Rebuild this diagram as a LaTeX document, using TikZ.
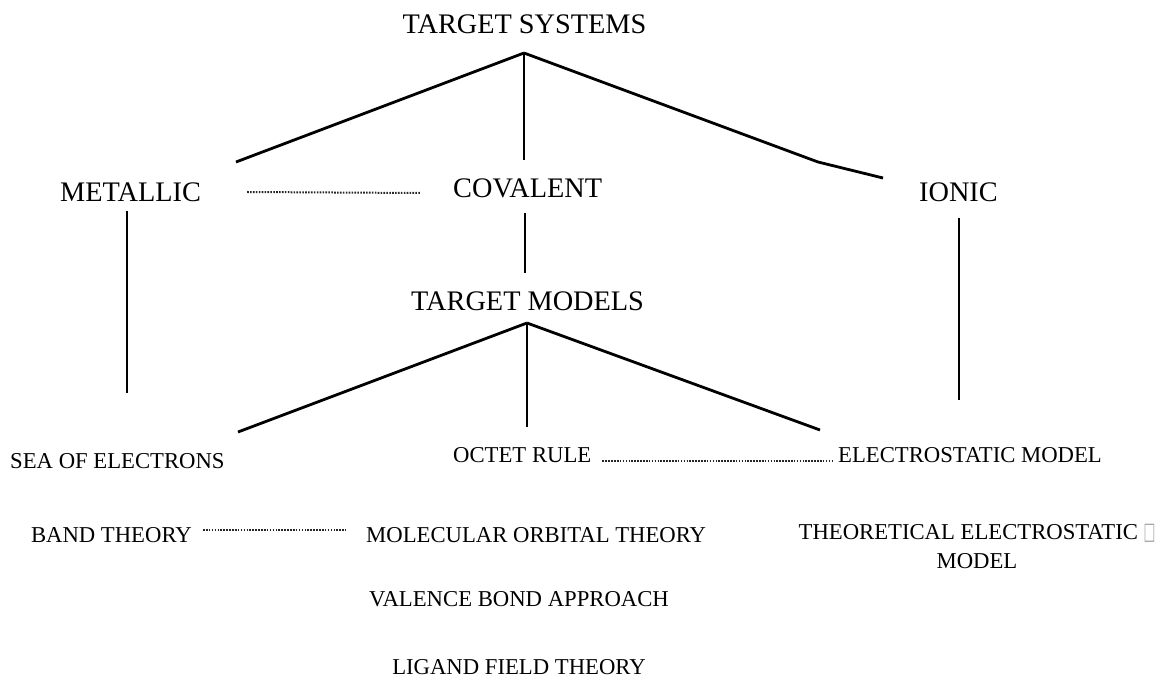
\documentclass[tikz,border=0pt]{standalone}
\usepackage{fontspec}
\setmainfont{Liberation Serif}
\newfontfamily\boxfont{DejaVu Sans}
\usetikzlibrary{positioning}

\begin{document}
\begin{tikzpicture}[
    x=1pt, y=-1pt,
    big/.style={inner sep=0pt, font=\fontsize{28.3}{34}\selectfont},
    small/.style={inner sep=0pt, font=\fontsize{22.7}{29}\selectfont, align=center},
    link/.style={line width=2.8pt},
    relation/.style={line width=2pt, dash pattern=on 1.6pt off 1.3pt, black!85}
]
    \useasboundingbox (0,0) rectangle (1160,684);

    % Nodes
    \node[big, anchor=base] (systems) at (524.5,34) {TARGET SYSTEMS};
    \node[big, anchor=base west] (metallic) at (60,202) {METALLIC};
    \node[big, anchor=base west] (covalent) at (453,198) {COVALENT};
    \node[big, anchor=base west] (ionic) at (919,202) {IONIC};
    \node[big, anchor=base west] (models) at (411,311) {TARGET MODELS};
    \node[small, anchor=base west] (sea) at (10,469) {SEA OF ELECTRONS};
    \node[small, anchor=base west] (octet) at (453,463) {OCTET RULE};
    \node[small, anchor=base west] (electro) at (838,463) {ELECTROSTATIC MODEL};
    \node[small, anchor=base east] (band) at (192,543) {BAND THEORY};
    \node[small, anchor=base west] (molecular) at (366,543) {MOLECULAR ORBITAL THEORY};
    \node[small, anchor=north] (theoretical) at (977,524)
        {THEORETICAL ELECTROSTATIC {\color{black!35}\scalebox{0.55}[1.05]{\boxfont □}}\\MODEL};
    \node[small, anchor=base] (valence) at (519,606) {VALENCE BOND APPROACH};
    \node[small, anchor=base] (ligand) at (519,674) {LIGAND FIELD THEORY};

    % Junctions
    \coordinate (sysroot) at (524,53);
    \coordinate (sysleft) at (236,162);
    \coordinate (sysmid) at (524,160);
    \coordinate (syskink) at (818,162);
    \coordinate (sysright) at (883,178);
    \coordinate (modroot) at (527,323);
    \coordinate (modleft) at (238,432);
    \coordinate (modmid) at (527,427);
    \coordinate (modright) at (820,430);
    \coordinate (mettop) at (127,211);
    \coordinate (metbot) at (127,393);
    \coordinate (covtop) at (525,213);
    \coordinate (covbot) at (525,273);
    \coordinate (iontop) at (959,218);
    \coordinate (ionbot) at (959,400);

    % Lines
    \draw[link] (sysroot) -- (sysleft);
    \draw[link] (sysroot) -- (sysmid);
    \draw[link] (sysroot) -- (syskink) -- (sysright);
    \draw[link] (mettop) -- (metbot);
    \draw[link] (covtop) -- (covbot);
    \draw[link] (iontop) -- (ionbot);
    \draw[link] (modroot) -- (modleft);
    \draw[link] (modroot) -- (modmid);
    \draw[link] (modroot) -- (modright);

    % Dotted relations
    \draw[relation] ([xshift=46pt, yshift=10pt]metallic.base east) -- ([xshift=-33pt, yshift=5pt]covalent.base west);
    \draw[relation] ([xshift=11pt, yshift=2pt]octet.base east) -- ([xshift=-6pt, yshift=2pt]electro.base west);
    \draw[relation] ([xshift=11pt, yshift=13pt]band.base east) -- ([xshift=-20pt, yshift=13pt]molecular.base west);
\end{tikzpicture}
\end{document}
